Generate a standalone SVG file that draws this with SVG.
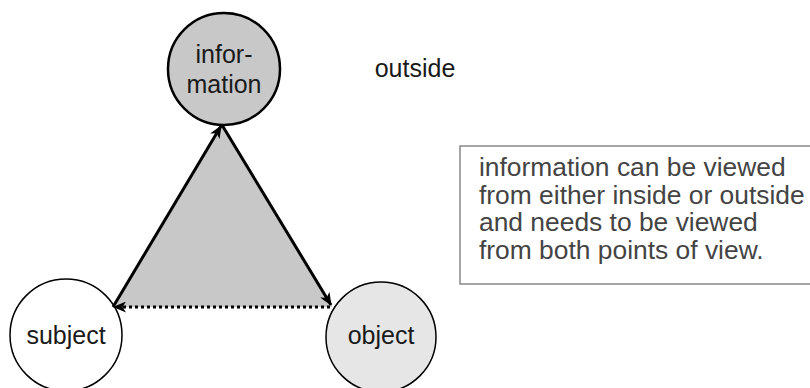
<svg xmlns="http://www.w3.org/2000/svg" width="810" height="388" viewBox="0 0 810 388">
<style>
.lbl{font-family:"Liberation Sans",Arial,sans-serif;font-size:25px;fill:#1a1a1a;text-anchor:middle}
.box{font-family:"Liberation Sans",Arial,sans-serif;font-size:26.4px;fill:#444}
.edge{stroke:#000;stroke-width:3;fill:none}
</style>
<defs>
<marker id="ah" viewBox="0 0 13 11" refX="12" refY="5.5" markerWidth="13" markerHeight="11" markerUnits="userSpaceOnUse" orient="auto">
<path d="M0,0 L13,5.5 L0,11 L3.5,5.5 z" fill="#000"/>
</marker>
</defs>
<polygon points="222,125 113,307 332,307" fill="#c8c8c8"/>
<g id="info">
<circle cx="224" cy="69" r="56" fill="#c8c8c8" stroke="#000" stroke-width="2.5"/>
<text class="lbl" x="224" y="63">infor-</text>
<text class="lbl" x="224" y="93">mation</text>
</g>
<g id="subject">
<circle cx="66" cy="335" r="56" fill="#fff" stroke="#000" stroke-width="1.5"/>
<text class="lbl" x="66" y="344">subject</text>
</g>
<g id="object">
<circle cx="381" cy="337" r="55" fill="#e6e6e6" stroke="#000" stroke-width="1.5"/>
<text class="lbl" x="381" y="344">object</text>
</g>
<g id="connectors">
<line class="edge" x1="113" y1="307" x2="221" y2="126" marker-end="url(#ah)"/>
<line class="edge" x1="222" y1="125" x2="331" y2="305" marker-end="url(#ah)"/>
<line class="edge" x1="330" y1="307" x2="114" y2="307" stroke-dasharray="3,3" marker-end="url(#ah)"/>
</g>
<g id="outside">
<text class="lbl" x="415" y="77">outside</text>
</g>
<g id="note">
<rect x="460" y="146" width="360" height="138" fill="#fff" stroke="#888" stroke-width="1.5"/>
<text class="box" x="479" y="176">information can be viewed</text>
<text class="box" x="479" y="203.5">from either inside or outside</text>
<text class="box" x="479" y="231">and needs to be viewed</text>
<text class="box" x="479" y="258.5">from both points of view.</text>
</g>
</svg>
